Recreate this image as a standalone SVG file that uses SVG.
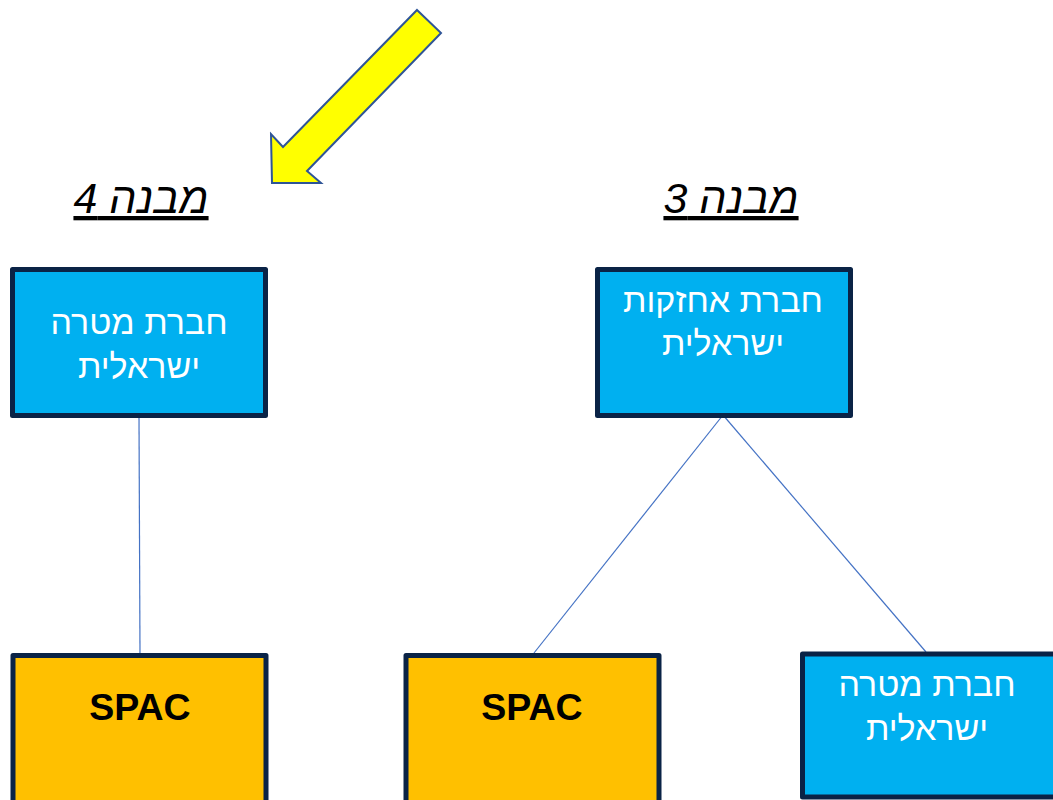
<svg xmlns="http://www.w3.org/2000/svg" width="1053" height="800" viewBox="0 0 1053 800">
<style>
.box{stroke:#0A2346;stroke-width:5;stroke-linejoin:round}
.blue{fill:#00B0F0}
.gold{fill:#FFC000}
.wt{fill:#FFFFFF;font-family:"Liberation Sans","DejaVu Sans",sans-serif;font-size:34px;text-anchor:middle}
.sp{fill:#000;font-family:"Liberation Sans",Arial,sans-serif;font-size:37.5px;font-weight:bold;text-anchor:middle}
.title{fill:#000;font-family:"Liberation Sans","DejaVu Sans",sans-serif;font-size:43px;font-style:italic;text-decoration:underline;text-anchor:middle}
.conn{stroke:#4472C4;stroke-width:1.2;fill:none}
</style>
<rect width="1053" height="800" fill="#FFFFFF"/>
<g id="arrow">
<polygon points="417,10 441,33 307,171 321,183 272,183 271,134 283,147" fill="#FFFF00" stroke="#2F5597" stroke-width="2" stroke-linejoin="miter"/>
</g>
<g id="title4"><text class="title" x="141" y="213" direction="rtl">מבנה 4</text></g>
<g id="title3"><text class="title" x="731" y="213" direction="rtl">מבנה 3</text></g>
<g id="connectors">
<line class="conn" x1="139" y1="418" x2="140" y2="654"/>
<line class="conn" x1="723" y1="415" x2="534" y2="653"/>
<line class="conn" x1="723" y1="415" x2="926" y2="652"/>
</g>
<g id="target4">
<rect class="box blue" x="12.5" y="269.5" width="253" height="146"/>
<text class="wt" x="139" y="334" direction="rtl">חברת מטרה</text>
<text class="wt" x="139" y="378" direction="rtl">ישראלית</text>
</g>
<g id="holding3">
<rect class="box blue" x="597.5" y="269.5" width="253" height="146"/>
<text class="wt" x="723" y="312" direction="rtl">חברת אחזקות</text>
<text class="wt" x="723" y="355" direction="rtl">ישראלית</text>
</g>
<g id="spac4">
<rect class="box gold" x="13" y="655.5" width="253" height="150"/>
<text class="sp" x="140" y="720">SPAC</text>
</g>
<g id="spac3">
<rect class="box gold" x="406" y="655.5" width="253" height="150"/>
<text class="sp" x="532" y="720">SPAC</text>
</g>
<g id="target3">
<rect class="box blue" x="802.5" y="654" width="253" height="143"/>
<text class="wt" x="927" y="696" direction="rtl">חברת מטרה</text>
<text class="wt" x="927" y="740" direction="rtl">ישראלית</text>
</g>
</svg>
